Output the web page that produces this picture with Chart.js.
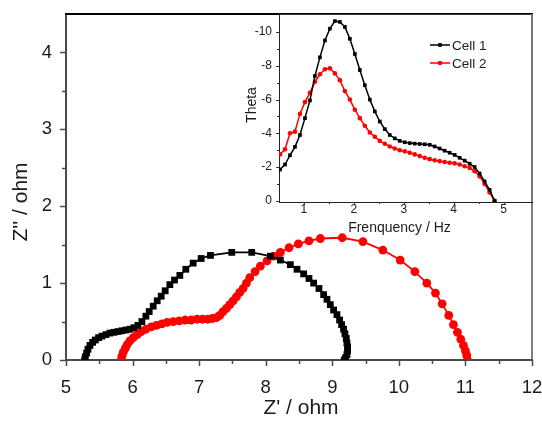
<!DOCTYPE html>
<html>
<head>
<meta charset="utf-8">
<script src="https://cdn.jsdelivr.net/npm/chart.js@4.4.1/dist/chart.umd.min.js"></script>
<style>
  html, body { margin: 0; padding: 0; background: #ffffff; }
  #wrap { position: relative; width: 542px; height: 421px; overflow: hidden; }
  #main { position: absolute; left: 0; top: 0; }
  #inset { position: absolute; left: 236px; top: 0; }
</style>
</head>
<body>
<div id="wrap">
  <canvas id="main" width="542" height="421"></canvas>
  <canvas id="inset" width="306" height="240"></canvas>
</div>
<script>
// ---- Nyquist data (Z' / ohm, Z'' / ohm), high frequency first ----
const cell1Re = [5.28, 5.29, 5.31, 5.33, 5.36, 5.40, 5.44, 5.49, 5.54, 5.60, 5.66, 5.72, 5.78, 5.84, 5.90, 5.96, 6.02, 6.08, 6.14,
  6.20, 6.25, 6.31, 6.37, 6.43, 6.49, 6.56, 6.63, 6.71, 6.80, 6.91, 7.03, 7.17, 7.49, 7.79, 8.07, 8.22, 8.37, 8.47, 8.57, 8.65,
  8.72, 8.80, 8.87, 8.92, 8.97, 9.02, 9.07, 9.11, 9.14, 9.17, 9.19, 9.21, 9.22, 9.23, 9.23, 9.22, 9.20, 9.18];
const cell1Im = [0.00, 0.04, 0.09, 0.14, 0.19, 0.23, 0.26, 0.29, 0.31, 0.33, 0.35, 0.36, 0.37, 0.38, 0.39, 0.40, 0.42, 0.45, 0.50,
  0.57, 0.63, 0.70, 0.77, 0.83, 0.90, 0.98, 1.04, 1.10, 1.18, 1.26, 1.32, 1.36, 1.40, 1.40, 1.35, 1.30, 1.24, 1.18, 1.12, 1.06,
  1.00, 0.93, 0.85, 0.79, 0.72, 0.65, 0.59, 0.52, 0.46, 0.40, 0.34, 0.28, 0.22, 0.17, 0.12, 0.07, 0.03, 0.00];

const cell2Re = [5.83, 5.84, 5.86, 5.89, 5.92, 5.96, 6.01, 6.07, 6.13, 6.20, 6.28, 6.36, 6.44, 6.52, 6.61, 6.70, 6.79, 6.88, 6.97,
  7.05, 7.13, 7.20, 7.26, 7.31, 7.36, 7.41, 7.46, 7.51, 7.56, 7.61, 7.66, 7.71, 7.76, 7.84, 7.92, 8.02, 8.12, 8.22, 8.35, 8.49,
  8.65, 8.82, 9.15, 9.46, 9.76, 10.02, 10.24, 10.42, 10.55, 10.65, 10.75, 10.82, 10.88, 10.93, 10.97, 11.00, 11.02, 11.03];
const cell2Im = [0.00, 0.05, 0.10, 0.15, 0.20, 0.25, 0.29, 0.33, 0.37, 0.40, 0.43, 0.45, 0.47, 0.49, 0.50, 0.51, 0.52, 0.52, 0.53,
  0.53, 0.53, 0.54, 0.55, 0.58, 0.63, 0.67, 0.72, 0.77, 0.82, 0.88, 0.93, 1.00, 1.07, 1.15, 1.22, 1.29, 1.35, 1.40, 1.46, 1.51,
  1.55, 1.58, 1.59, 1.54, 1.43, 1.30, 1.15, 1.00, 0.87, 0.73, 0.58, 0.46, 0.36, 0.27, 0.19, 0.12, 0.06, 0.00];

// ---- Bode phase data (log frequency, Theta) ----
const logFreq = [0.52, 0.62, 0.72, 0.82, 0.92, 1.02, 1.12, 1.22, 1.32, 1.42, 1.52, 1.62, 1.72, 1.82, 1.92, 2.02, 2.12, 2.22,
  2.32, 2.42, 2.52, 2.62, 2.72, 2.82, 2.92, 3.02, 3.12, 3.22, 3.32, 3.42, 3.52, 3.62, 3.72, 3.82, 3.92, 4.02, 4.12, 4.22,
  4.32, 4.42, 4.52, 4.62, 4.72, 4.82];
const cell1Theta = [-1.85, -2.15, -2.7, -3.2, -3.9, -4.9, -5.95, -7.4, -8.5, -9.5, -10.2, -10.65, -10.6, -10.3, -9.6, -8.7, -7.75, -6.85,
  -6.0, -5.3, -4.7, -4.25, -3.9, -3.7, -3.55, -3.47, -3.42, -3.39, -3.37, -3.35, -3.32, -3.22, -3.1, -2.97, -2.85, -2.72, -2.55, -2.38,
  -2.2, -2.0, -1.62, -1.15, -0.65, 0];
const cell2Theta = [-2.75, -3.05, -4.0, -4.1, -5.15, -5.85, -6.4, -7.05, -7.5, -7.8, -7.85, -7.55, -7.15, -6.5, -6.0, -5.4, -4.9, -4.45,
  -4.05, -3.8, -3.55, -3.38, -3.22, -3.1, -3.0, -2.93, -2.85, -2.75, -2.65, -2.55, -2.47, -2.4, -2.35, -2.3, -2.26, -2.22, -2.15, -2.05,
  -1.95, -1.75, -1.45, -1.0, -0.5, 0];

const seriesNames = ['Cell 1', 'Cell 2'];

// ---- tick values ----
const mainXTicks = [5, 6, 7, 8, 9, 10, 11, 12];
const mainXMinor = [5.5, 6.5, 7.5, 8.5, 9.5, 10.5, 11.5];
const mainYTicks = [0, 1, 2, 3, 4];
const mainYMinor = [0.5, 1.5, 2.5, 3.5];
const insetXTicks = [1, 2, 3, 4, 5];
const insetXMinor = [1.5, 2.5, 3.5, 4.5];
const insetYTicks = [-10, -8, -6, -4, -2, 0];
const insetYMinor = [-9, -7, -5, -3, -1];

const FONT = "'Liberation Sans', Arial, sans-serif";
const INK = '#1b1b1b';

const toPoints = (xs, ys) => xs.map((x, i) => ({ x, y: ys[i] }));

// fixed axis box size, no extra edge padding from tick labels
const fixBox = size => s => {
  if (s.isHorizontal()) s.height = size; else s.width = size;
  s.paddingTop = 0; s.paddingBottom = 0; s.paddingLeft = 0; s.paddingRight = 0;
};

// draws short tick marks on chosen scales
const tickMarks = {
  id: 'tickMarks',
  afterDatasetsDraw(chart, args, opts) {
    const ctx = chart.ctx;
    ctx.save();
    ctx.strokeStyle = opts.color;
    ctx.lineWidth = opts.width;
    for (const id of Object.keys(opts.scales)) {
      const s = chart.scales[id];
      const cfg = opts.scales[id];
      const draw = (v, len) => {
        const p = Math.round(s.getPixelForValue(v)) + 0.5;
        ctx.beginPath();
        if (s.isHorizontal()) {
          ctx.moveTo(p, chart.chartArea.bottom);
          ctx.lineTo(p, chart.chartArea.bottom + len);
        } else {
          ctx.moveTo(chart.chartArea.left, p);
          ctx.lineTo(chart.chartArea.left - len, p);
        }
        ctx.stroke();
      };
      cfg.major.forEach(v => draw(v, opts.majorLen));
      cfg.minor.forEach(v => draw(v, opts.minorLen));
    }
    ctx.restore();
  }
};

// top and right frame lines around the plotting area
const frame = {
  id: 'frame',
  afterDraw(chart, args, opts) {
    const { left, top, right, bottom } = chart.chartArea;
    const ctx = chart.ctx;
    ctx.save();
    ctx.lineWidth = opts.topWidth;
    ctx.strokeStyle = opts.topColor;
    ctx.beginPath();
    ctx.moveTo(left - 1, top);
    ctx.lineTo(right + 1, top);
    ctx.stroke();
    ctx.lineWidth = opts.rightWidth;
    ctx.strokeStyle = opts.rightColor;
    ctx.beginPath();
    ctx.moveTo(right, top);
    ctx.lineTo(right, bottom);
    ctx.stroke();
    ctx.restore();
  }
};

const whiteArea = {
  id: 'whiteArea',
  beforeDraw(chart) {
    const { left, top, right, bottom } = chart.chartArea;
    chart.ctx.save();
    chart.ctx.fillStyle = '#ffffff';
    chart.ctx.fillRect(left, top, right - left, bottom - top);
    chart.ctx.restore();
  }
};

// axis titles placed at set offsets from the plotting area
const axisTitles = {
  id: 'axisTitles',
  afterDraw(chart, args, opts) {
    const ctx = chart.ctx;
    const area = chart.chartArea;
    ctx.save();
    ctx.fillStyle = INK;
    ctx.textAlign = 'center';
    ctx.textBaseline = 'middle';
    for (const t of opts.items) {
      ctx.font = t.font;
      ctx.save();
      if (t.vertical) {
        ctx.translate(t.pos, (area.top + area.bottom) / 2 + t.shift);
        ctx.rotate(-Math.PI / 2);
      } else {
        ctx.translate((area.left + area.right) / 2 + t.shift, t.pos);
      }
      ctx.fillText(t.text, 0, 0);
      ctx.restore();
    }
    ctx.restore();
  }
};

// line+marker legend inside the inset
const lineLegend = {
  id: 'lineLegend',
  afterDraw(chart, args, opts) {
    const ctx = chart.ctx;
    ctx.save();
    chart.data.datasets.forEach((ds, i) => {
      const y = opts.y + i * opts.gap;
      ctx.strokeStyle = ds.borderColor;
      ctx.lineWidth = ds.borderWidth;
      ctx.beginPath();
      ctx.moveTo(opts.x, y);
      ctx.lineTo(opts.x + opts.len, y);
      ctx.stroke();
      ctx.fillStyle = ds.pointBackgroundColor;
      Chart.helpers.drawPoint(ctx, { pointStyle: ds.pointStyle, radius: ds.pointRadius, rotation: 0, borderWidth: 0 },
        opts.x + opts.len / 2, y);
      ctx.fillStyle = INK;
      ctx.font = opts.font;
      ctx.textBaseline = 'middle';
      ctx.textAlign = 'left';
      ctx.fillText(ds.label, opts.x + opts.len + 2, y + 1);
    });
    ctx.restore();
  }
};

// ---------------- main Nyquist chart ----------------
new Chart(document.getElementById('main'), {
  type: 'scatter',
  data: {
    datasets: [
      {
        label: seriesNames[0],
        data: toPoints(cell1Re, cell1Im),
        showLine: true,
        borderColor: '#000000',
        backgroundColor: '#000000',
        borderWidth: 1.8,
        pointStyle: 'rect',
        pointRadius: 4.8,
        pointBorderWidth: 0,
        pointBackgroundColor: '#000000'
      },
      {
        label: seriesNames[1],
        data: toPoints(cell2Re, cell2Im),
        showLine: true,
        borderColor: '#ff0000',
        backgroundColor: '#ff0000',
        borderWidth: 1.8,
        pointStyle: 'circle',
        pointRadius: 4.4,
        pointBorderWidth: 0,
        pointBackgroundColor: '#ff0000'
      }
    ]
  },
  options: {
    responsive: false,
    animation: false,
    devicePixelRatio: 1,
    layout: { padding: { left: 0, top: 14, right: 10, bottom: 0 } },
    plugins: {
      legend: { display: false },
      tooltip: { enabled: false },
      tickMarks: {
        color: '#4a4a4a', width: 1.5, majorLen: 6, minorLen: 4,
        scales: { x: { major: mainXTicks, minor: mainXMinor }, y: { major: mainYTicks, minor: mainYMinor } }
      },
      frame: { topWidth: 2, topColor: '#000000', rightWidth: 1.5, rightColor: '#555555' },
      axisTitles: {
        items: [
          { text: "Z' / ohm", font: '21px ' + FONT, vertical: false, pos: 408, shift: 2 },
          { text: "Z'' / ohm", font: '21px ' + FONT, vertical: true, pos: 21, shift: 15 }
        ]
      }
    },
    scales: {
      x: {
        type: 'linear',
        min: 5, max: 12,
        afterBuildTicks: s => { s.ticks = mainXTicks.map(v => ({ value: v })); },
        afterFit: fixBox(61),
        grid: { display: false, drawTicks: false },
        border: { display: true, color: '#4a4a4a', width: 2 },
        ticks: { color: INK, font: { family: FONT, size: 18.5 }, padding: 17, maxRotation: 0 }
      },
      y: {
        type: 'linear',
        min: 0, max: 4.5,
        afterBuildTicks: s => { s.ticks = mainYTicks.map(v => ({ value: v })); },
        afterFit: fixBox(66),
        grid: { display: false, drawTicks: false },
        border: { display: true, color: '#4a4a4a', width: 2 },
        ticks: { color: INK, font: { family: FONT, size: 18.5 }, padding: 14 }
      }
    }
  },
  plugins: [tickMarks, frame, axisTitles]
});

// ---------------- inset Bode phase chart ----------------
new Chart(document.getElementById('inset'), {
  type: 'scatter',
  data: {
    datasets: [
      {
        label: seriesNames[0],
        data: toPoints(logFreq, cell1Theta),
        showLine: true,
        borderColor: '#000000',
        borderWidth: 1.5,
        pointStyle: 'rect',
        pointRadius: 2.6,
        pointBorderWidth: 0,
        pointBackgroundColor: '#000000'
      },
      {
        label: seriesNames[1],
        data: toPoints(logFreq, cell2Theta),
        showLine: true,
        borderColor: '#ff0000',
        borderWidth: 1.5,
        pointStyle: 'circle',
        pointRadius: 2.3,
        pointBorderWidth: 0,
        pointBackgroundColor: '#ff0000'
      }
    ]
  },
  options: {
    responsive: false,
    animation: false,
    devicePixelRatio: 1,
    layout: { padding: { left: 0, top: 14, right: 10, bottom: 0 } },
    plugins: {
      legend: { display: false },
      tooltip: { enabled: false },
      tickMarks: {
        color: '#333333', width: 1, majorLen: 3, minorLen: 2,
        scales: { x: { major: insetXTicks, minor: insetXMinor }, y: { major: insetYTicks, minor: insetYMinor } }
      },
      frame: { topWidth: 1.5, topColor: '#000000', rightWidth: 2, rightColor: '#777777' },
      lineLegend: { x: 194, y: 45, gap: 18, len: 20, font: '13.5px ' + FONT },
      axisTitles: {
        items: [
          { text: 'Frenquency / Hz', font: '14px ' + FONT, vertical: false, pos: 228, shift: -6 },
          { text: 'Theta', font: '14px ' + FONT, vertical: true, pos: 16, shift: -3 }
        ]
      }
    },
    scales: {
      x: {
        type: 'linear',
        min: 0.5, max: 5.57,
        afterBuildTicks: s => { s.ticks = insetXTicks.map(v => ({ value: v })); },
        afterFit: fixBox(38),
        grid: { display: false, drawTicks: false },
        border: { display: true, color: '#222222', width: 1 },
        ticks: { color: INK, font: { family: FONT, size: 12 }, padding: 0, maxRotation: 0 }
      },
      y: {
        type: 'linear',
        reverse: true,
        min: -11.07, max: 0.07,
        afterBuildTicks: s => { s.ticks = insetYTicks.map(v => ({ value: v })); },
        afterFit: fixBox(43),
        grid: { display: false, drawTicks: false },
        border: { display: true, color: '#222222', width: 1 },
        ticks: { color: INK, font: { family: FONT, size: 12 }, padding: 7 }
      }
    }
  },
  plugins: [whiteArea, tickMarks, frame, lineLegend, axisTitles]
});
</script>
</body>
</html>
